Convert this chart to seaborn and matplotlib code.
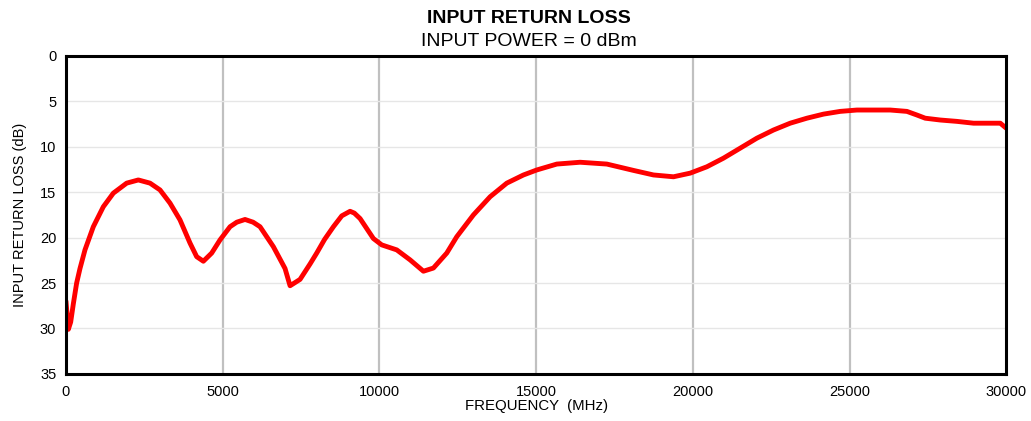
import pandas as pd
import matplotlib
matplotlib.use("Agg")
import matplotlib.pyplot as plt
import seaborn as sns

# data
freq_mhz = [0, 75, 150, 234, 340, 447, 606, 872, 1191, 1511, 1936, 2308, 2681, 3000,
            3319, 3638, 3957, 4170, 4383, 4649, 4915, 5234, 5450, 5713, 5970, 6191, 6617,
            6989, 7149, 7468, 7787, 8000, 8250, 8532, 8800, 9064, 9200, 9383, 9808, 10074, 10553,
            10979, 11404, 11723, 12149, 12468, 12999, 13532, 14064, 14596, 15021,
            15660, 16404, 17256, 18107, 18745, 19383, 19915, 20447, 20978, 21511,
            22043, 22574, 23106, 23639, 24170, 24702, 25234, 25765, 26298, 26830,
            27150, 27415, 27894, 28426, 28957, 29489, 29809, 30000]
loss_db = [27.0, 30.1, 29.3, 27.3, 25.0, 23.4, 21.35, 18.8, 16.6, 15.1, 14.0, 13.65, 14.0, 14.75,
           16.2, 18.05, 20.6, 22.1, 22.6, 21.7, 20.25, 18.8, 18.3, 18.0, 18.3, 18.8, 21.0,
           23.4, 25.3, 24.6, 22.9, 21.7, 20.2, 18.8, 17.6, 17.1, 17.3, 17.9, 20.1, 20.8, 21.35,
           22.45, 23.7, 23.35, 21.7, 19.9, 17.5, 15.5, 14.0, 13.1, 12.55,
           11.9, 11.7, 11.9, 12.6, 13.1, 13.3, 12.9, 12.2, 11.25, 10.15,
           9.05, 8.15, 7.4, 6.85, 6.4, 6.1, 5.95, 5.95, 5.95, 6.1,
           6.5, 6.85, 7.05, 7.2, 7.4, 7.4, 7.4, 7.95]

df = pd.DataFrame({"freq": freq_mhz, "loss": loss_db})

sns.set_style("white")
plt.rcParams["font.family"] = ["Liberation Sans", "DejaVu Sans"]
plt.rcParams["text.color"] = "black"
plt.rcParams["axes.labelcolor"] = "black"
plt.rcParams["xtick.color"] = "black"
plt.rcParams["ytick.color"] = "black"

fig, ax = plt.subplots(figsize=(10.31, 4.21), dpi=100)
fig.subplots_adjust(left=0.064, right=0.976, top=0.867, bottom=0.112)

sns.lineplot(data=df, x="freq", y="loss", color="#ff0000", linewidth=3.5, ax=ax)
for ln in ax.lines:
    ln.set_solid_joinstyle("round")
    ln.set_solid_capstyle("round")

ax.set_xlim(0, 30000)
ax.set_ylim(35, 0)
ax.set_xticks(range(0, 30001, 5000))
ax.set_yticks(range(0, 36, 5))

# gridlines: heavy grey verticals, faint horizontals
for xv in range(5000, 30000, 5000):
    ax.axvline(xv, color="#c0c0c0", linewidth=1.6, zorder=0)
for yv in range(5, 35, 5):
    ax.axhline(yv, color="#e6e6e6", linewidth=1.0, zorder=0)

for sp in ax.spines.values():
    sp.set_visible(True)
    sp.set_color("black")
    sp.set_linewidth(2.2)

ax.tick_params(axis="y", direction="out", length=4, width=1.5, labelsize=10.5, pad=3)
ax.tick_params(axis="x", length=0, labelsize=10.5, pad=8)
ax.set_xlabel("FREQUENCY  (MHz)", fontsize=10.8, labelpad=0)
ax.set_ylabel("INPUT RETURN LOSS (dB)", fontsize=10.5, labelpad=9)

fig.text(0.513, 0.955, "INPUT RETURN LOSS", ha="center", va="center",
         fontsize=14, fontweight="bold")
fig.text(0.513, 0.902, "INPUT POWER = 0 dBm", ha="center", va="center",
         fontsize=14)

fig.savefig("out.png", dpi=100)
